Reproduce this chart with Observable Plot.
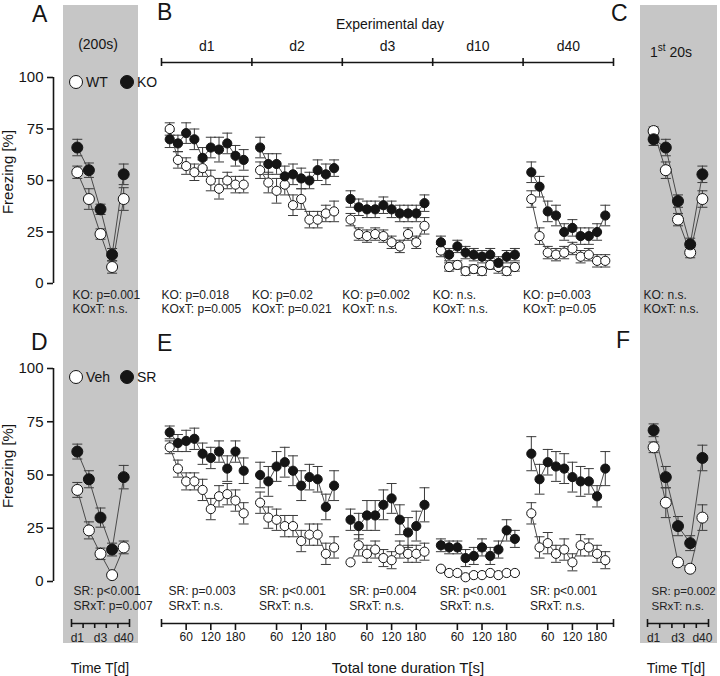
<!DOCTYPE html>
<html>
<head>
<meta charset="utf-8">
<script src="https://cdn.jsdelivr.net/npm/d3@7"></script>
<script src="https://cdn.jsdelivr.net/npm/@observablehq/plot@0.6"></script>
<style>
  body { margin: 0; background: #fff; }
  #fig { position: relative; width: 720px; height: 676px; overflow: hidden; background: #fff; }
  #fig > svg, #fig > div.bg { position: absolute; left: 0; top: 0; }
  .bg { background: #c6c6c6; }
</style>
</head>
<body>
<div id="fig"></div>
<script>
// ---------------- DATA ----------------
const days = ["d1", "d2", "d3", "d10", "d40"];
const toneT = [20, 40, 60, 80, 100, 120, 140, 160, 180, 200]; // s within each day's session
const secTicks = [60, 120, 180];
const yTicks = [0, 25, 50, 75, 100];

// Panel A (200 s) – WT vs KO
const A_WT   = [54, 41, 24, 8, 41];
const A_WT_e = [3, 5, 2.5, 3, 5.5];
const A_KO   = [66, 55, 36, 14, 53];
const A_KO_e = [4, 3.5, 2.5, 3, 5];

// Panel C (1st 20 s) – WT vs KO
const C_WT   = [74, 55, 31, 15, 41];
const C_WT_e = [2, 4, 3, 2.5, 4];
const C_KO   = [70, 66, 40, 19, 53];
const C_KO_e = [3, 4, 3, 3, 4];

// Panel B – 10 bins of 20 s per day
const B_WT = [
  [75, 60, 57, 54, 56, 50, 46, 50, 48, 48],
  [55, 49, 45, 48, 38, 41, 31, 31, 34, 35],
  [31, 24, 23, 24, 23, 20, 18, 24, 20, 28],
  [16, 8, 9, 6, 7, 6, 9, 8, 6, 8],
  [41, 23, 15, 14, 15, 17, 13, 14, 11, 11]
];
const B_WT_e = [
  [3, 4, 4, 4, 4, 5, 5, 4, 4, 4],
  [4, 5, 6, 5, 5, 5, 4, 4, 4, 5],
  [3, 3, 3, 3, 3, 3, 3, 3, 3, 4],
  [3, 2, 2, 2, 2, 2, 2, 3, 2, 2],
  [4, 4, 3, 3, 3, 3, 3, 3, 3, 3]
];
const B_KO = [
  [70, 68, 73, 70, 61, 66, 65, 68, 62, 60],
  [66, 58, 58, 52, 53, 51, 50, 55, 53, 56],
  [41, 37, 36, 36, 38, 36, 34, 34, 34, 39],
  [20, 14, 18, 15, 14, 13, 14, 10, 13, 14],
  [54, 47, 35, 33, 25, 27, 23, 23, 25, 33]
];
const B_KO_e = [
  [4, 4, 5, 5, 5, 5, 6, 5, 5, 5],
  [5, 5, 5, 5, 5, 5, 4, 5, 5, 4],
  [4, 4, 4, 4, 4, 4, 4, 4, 4, 4],
  [3, 3, 3, 3, 3, 3, 3, 3, 3, 3],
  [5, 5, 5, 5, 4, 4, 4, 4, 4, 5]
];

// Panel D (200 s) – Veh vs SR
const D_Veh   = [43, 24, 13, 3, 16];
const D_Veh_e = [3.5, 4, 2.7, 0, 3];
const D_SR    = [61, 48, 30, 15, 49];
const D_SR_e  = [3.5, 4, 4.5, 3, 5.5];

// Panel F (1st 20 s) – Veh vs SR
const F_Veh   = [63, 37, 9, 6, 30];
const F_Veh_e = [2.5, 7, 0, 0, 6];
const F_SR    = [71, 49, 26, 18, 58];
const F_SR_e  = [3, 5, 4.5, 3.5, 6];

// Panel E – 10 bins of 20 s per day
const E_Veh = [
  [63, 53, 47, 47, 43, 34, 40, 41, 38, 32],
  [37, 30, 29, 26, 26, 19, 22, 22, 13, 16],
  [9, 17, 13, 15, 11, 10, 15, 13, 13, 14],
  [6, 4, 4, 2, 3, 3, 4, 3, 4, 4],
  [32, 16, 18, 13, 15, 9, 17, 16, 13, 10]
];
const E_Veh_e = [
  [3, 4, 4, 4, 5, 5, 5, 5, 5, 5],
  [5, 5, 5, 5, 5, 5, 5, 5, 5, 5],
  [0, 5, 4, 4, 4, 4, 4, 4, 4, 4],
  [0, 0, 0, 0, 0, 0, 0, 0, 0, 0],
  [5, 5, 5, 4, 5, 4, 5, 4, 4, 4]
];
const E_SR = [
  [70, 65, 66, 67, 60, 58, 61, 53, 61, 52],
  [50, 47, 54, 56, 52, 45, 49, 48, 35, 45],
  [29, 26, 31, 31, 36, 39, 29, 23, 26, 36],
  [17, 16, 16, 11, 12, 16, 12, 15, 24, 20],
  [60, 48, 56, 54, 53, 49, 47, 47, 40, 53]
];
const E_SR_e = [
  [3, 4, 5, 5, 5, 5, 5, 6, 5, 6],
  [6, 7, 7, 7, 7, 7, 6, 6, 6, 7],
  [5, 6, 7, 7, 7, 7, 7, 7, 7, 8],
  [3, 3, 3, 4, 4, 4, 4, 4, 5, 4],
  [8, 7, 6, 7, 7, 7, 7, 6, 5, 8]
];

// Statistics text
const statA = ["KO: p=0.001", "KOxT: n.s."];
const statB1 = ["KO: p=0.018", "KO: p=0.02", "KO: p=0.002", "KO: n.s.", "KO: p=0.003"];
const statB2 = ["KOxT: p=0.005", "KOxT: p=0.021", "KOxT: n.s.", "KOxT: n.s.", "KOxT: p=0.05"];
const statC = ["KO: n.s.", "KOxT: n.s."];
const statD = ["SR: p<0.001", "SRxT: p=0.007"];
const statE1 = ["SR: p=0.003", "SR: p<0.001", "SR: p=0.004", "SR: p<0.001", "SR: p<0.001"];
const statE2 = ["SRxT: n.s.", "SRxT: n.s.", "SRxT: n.s.", "SRxT: n.s.", "SRxT: n.s."];
const statF = ["SR: p=0.002", "SRxT: n.s."];

// ---------------- LAYOUT ----------------
const W = 720, H = 676;
const FONT = "'Liberation Sans', Arial, Helvetica, sans-serif";
const segLen = 220; // seconds per day segment on the continuous x axis
const TOP = {top: 77, bottom: 283};
const BOT = {top: 368, bottom: 581};
const XL = {left: 71, right: 129};   // A / D
const XR = {left: 647, right: 708};  // C / F
const XM = {left: 161, right: 613};  // B / E
const INK = "#151515";

const fig = document.getElementById("fig");

// gray background strips
[[63, 5, 75, 638], [640, 5, 77, 638]].forEach(([x, y, w, h]) => {
  const d = document.createElement("div");
  d.className = "bg";
  Object.assign(d.style, {left: x + "px", top: y + "px", width: w + "px", height: h + "px"});
  fig.appendChild(d);
});

// data rows
const rows5 = (vals, errs, g) => vals.map((v, i) => ({x: i + 0.5, y: v, e: errs[i], g, day: 0}));
const rowsDays = (byDay, errByDay, g) => byDay.flatMap((vals, d) =>
  vals.map((v, i) => ({x: d * segLen + toneT[i], y: v, e: errByDay[d][i], g, day: d})));

const cap = {draw(ctx, size) { const w = Math.sqrt(size / Math.PI); ctx.moveTo(-w, 0); ctx.lineTo(w, 0); }};

function base(frame, xr, xDomain) {
  return {
    width: W, height: H,
    marginLeft: xr.left, marginRight: W - xr.right,
    marginTop: frame.top, marginBottom: H - frame.bottom,
    x: {domain: xDomain, axis: null},
    y: {domain: [0, 100], axis: null},
    style: {background: "none", fontFamily: FONT, color: INK}
  };
}

function panel(frame, xr, xDomain, open, filled, r, capR, statRows, statDx, dy1, dy2, statSize = 12) {
  const all = open.concat(filled);
  const eb = all.filter(d => d.e > 0);
  return Plot.plot({
    ...base(frame, xr, xDomain),
    marks: [
      Plot.ruleX(eb, {x: "x", y1: d => d.y - d.e, y2: d => d.y + d.e, stroke: "#3a3a3a", strokeWidth: 1}),
      Plot.dot(eb, {x: "x", y: d => d.y + d.e, symbol: cap, r: capR, stroke: "#3a3a3a", fill: "none", strokeWidth: 1}),
      Plot.dot(eb, {x: "x", y: d => d.y - d.e, symbol: cap, r: capR, stroke: "#3a3a3a", fill: "none", strokeWidth: 1}),
      Plot.line(all, {x: "x", y: "y", z: d => d.g + "-" + d.day, stroke: "#4a4a4a", strokeWidth: 1}),
      Plot.dot(open, {x: "x", y: "y", r, fill: "white", stroke: INK, strokeWidth: 1}),
      Plot.dot(filled, {x: "x", y: "y", r, fill: INK, stroke: INK, strokeWidth: 1}),
      Plot.text(statRows, {x: "x", text: "l1", frameAnchor: "bottom", dy: dy1, dx: statDx, textAnchor: "start", lineAnchor: "bottom", fontSize: statSize, fill: "#222"}),
      Plot.text(statRows, {x: "x", text: "l2", frameAnchor: "bottom", dy: dy2, dx: statDx, textAnchor: "start", lineAnchor: "bottom", fontSize: statSize, fill: "#222"})
    ]
  });
}

function yAxis(frame) {
  return Plot.plot({
    ...base(frame, {left: 53, right: 54}, [0, 1]),
    marks: [
      Plot.ruleX([0], {stroke: INK, strokeWidth: 1.6}),
      Plot.axisY(yTicks, {tickSize: 6, tickPadding: 4, fontSize: 15, color: INK, strokeWidth: 1.6})
    ]
  });
}

function thinFrame(xr, xDomain, y0, y1) {
  return {
    width: W, height: H,
    marginLeft: xr.left, marginRight: W - xr.right,
    marginTop: y0, marginBottom: H - y1,
    x: {domain: xDomain, axis: null},
    y: {domain: [0, 1], axis: null},
    style: {background: "none", fontFamily: FONT, color: INK}
  };
}

const plots = [];
// Top row
plots.push(yAxis(TOP));
plots.push(panel(TOP, XL, [0, 5], rows5(A_WT, A_WT_e, "WT"), rows5(A_KO, A_KO_e, "KO"), 5.5, 5,
  [{x: 0, l1: statA[0], l2: statA[1]}], 1, 15, 29));
plots.push(panel(TOP, XM, [0, 5 * segLen], rowsDays(B_WT, B_WT_e, "WT"), rowsDays(B_KO, B_KO_e, "KO"), 4.6, 5,
  statB1.map((s, i) => ({x: i * segLen, l1: s, l2: statB2[i]})), 0, 15, 29));
plots.push(panel(TOP, XR, [0, 5], rows5(C_WT, C_WT_e, "WT"), rows5(C_KO, C_KO_e, "KO"), 5.5, 5,
  [{x: 0, l1: statC[0], l2: statC[1]}], -4, 15, 29));
// Bottom row
plots.push(yAxis(BOT));
plots.push(panel(BOT, XL, [0, 5], rows5(D_Veh, D_Veh_e, "Veh"), rows5(D_SR, D_SR_e, "SR"), 5.5, 5,
  [{x: 0, l1: statD[0], l2: statD[1]}], 2, 13, 28));
plots.push(panel(BOT, XM, [0, 5 * segLen], rowsDays(E_Veh, E_Veh_e, "Veh"), rowsDays(E_SR, E_SR_e, "SR"), 4.6, 5,
  statE1.map((s, i) => ({x: i * segLen, l1: s, l2: statE2[i]})), 7, 13, 28));
plots.push(panel(BOT, XR, [0, 5], rows5(F_Veh, F_Veh_e, "Veh"), rows5(F_SR, F_SR_e, "SR"), 5.5, 5,
  [{x: 0, l1: statF[0], l2: statF[1]}], 4, 13, 28, 11.5));

// Top "Experimental day" axis
const dayBounds = d3.range(6).map(k => k * segLen);
plots.push(Plot.plot({
  ...thinFrame(XM, [0, 5 * segLen], 58, 62),
  marks: [
    Plot.ruleY([0], {stroke: INK, strokeWidth: 1.6}),
    Plot.ruleX(dayBounds, {stroke: INK, strokeWidth: 1.6, insetBottom: -4}),
    Plot.text(days, {x: (d, i) => i * segLen + segLen / 2, text: d => d, frameAnchor: "top", dy: -8, lineAnchor: "bottom", fontSize: 14, fill: INK})
  ]
}));

// Bottom seconds axis (E)
const eTicks = d3.range(5).flatMap(k => secTicks.map(t => k * segLen + t));
plots.push(Plot.plot({
  ...thinFrame(XM, [0, 5 * segLen], 619, 623),
  marks: [
    Plot.ruleY([0], {stroke: INK, strokeWidth: 1.6}),
    Plot.ruleX([0, 5 * segLen], {stroke: INK, strokeWidth: 1.6, insetBottom: -4}),
    Plot.axisX(eTicks, {tickSize: 7, tickPadding: 2, tickFormat: v => String(v % segLen), fontSize: 12, color: INK, strokeWidth: 1.6})
  ]
}));

// Bottom day axes (D, F)
[XL, XR].forEach(xr => {
  plots.push(Plot.plot({
    ...thinFrame(xr, [0, 5], 619, 623),
    marks: [
      Plot.ruleY([0], {stroke: INK, strokeWidth: 1.6}),
      Plot.ruleX([0, 5], {stroke: INK, strokeWidth: 1.6, insetBottom: -4}),
      Plot.axisX([1, 2, 3, 4], {tickSize: 5, tickFormat: () => "", color: INK, strokeWidth: 1.6}),
      Plot.axisX([0.5, 2.5, 4.5], {tickSize: 0, tickPadding: 9.5, tickFormat: v => days[Math.floor(v)], fontSize: 12, color: "#222"})
    ]
  }));
});

plots.forEach(p => fig.appendChild(p));

// ---------------- ANNOTATIONS ----------------
const svg = d3.select(fig).append("svg")
  .attr("width", W).attr("height", H)
  .style("font-family", FONT).style("pointer-events", "none");

function txt(x, y, s, size, anchor = "start", rot = 0) {
  const t = svg.append("text").attr("x", x).attr("y", y).attr("font-size", size)
    .attr("text-anchor", anchor).attr("fill", INK).text(s);
  if (rot) t.attr("transform", `rotate(${rot},${x},${y})`);
  return t;
}
// panel letters
const letters = [["A", 32, 22], ["B", 157, 20], ["C", 611, 21], ["D", 31, 350], ["E", 157, 351], ["F", 616, 348]];
letters.forEach(([s, x, y]) => txt(x, y, s, 23));

txt(98, 49, "(200s)", 14, "middle");
const c1 = svg.append("text").attr("x", 671).attr("y", 57).attr("font-size", 14)
  .attr("text-anchor", "middle").attr("fill", INK);
c1.append("tspan").text("1");
c1.append("tspan").attr("font-size", 10).attr("dy", -6).text("st");
c1.append("tspan").attr("dy", 6).text(" 20s");

txt(390, 29, "Experimental day", 14, "middle");
txt(13, 172, "Freezing [%]", 15, "middle", -90);
txt(13, 466, "Freezing [%]", 15, "middle", -90);
txt(408, 673, "Total tone duration T[s]", 15, "middle");
txt(100, 673, "Time T[d]", 14, "middle");
txt(676, 673, "Time T[d]", 14, "middle");

// legends
function legend(y, a, b) {
  svg.append("circle").attr("cx", 76).attr("cy", y).attr("r", 6.5).attr("fill", "white").attr("stroke", INK);
  txt(86, y + 5, a, 14);
  svg.append("circle").attr("cx", 127).attr("cy", y).attr("r", 6.5).attr("fill", INK).attr("stroke", INK);
  txt(137, y + 5, b, 14);
}
legend(82, "WT", "KO");
legend(377, "Veh", "SR");
</script>
</body>
</html>
